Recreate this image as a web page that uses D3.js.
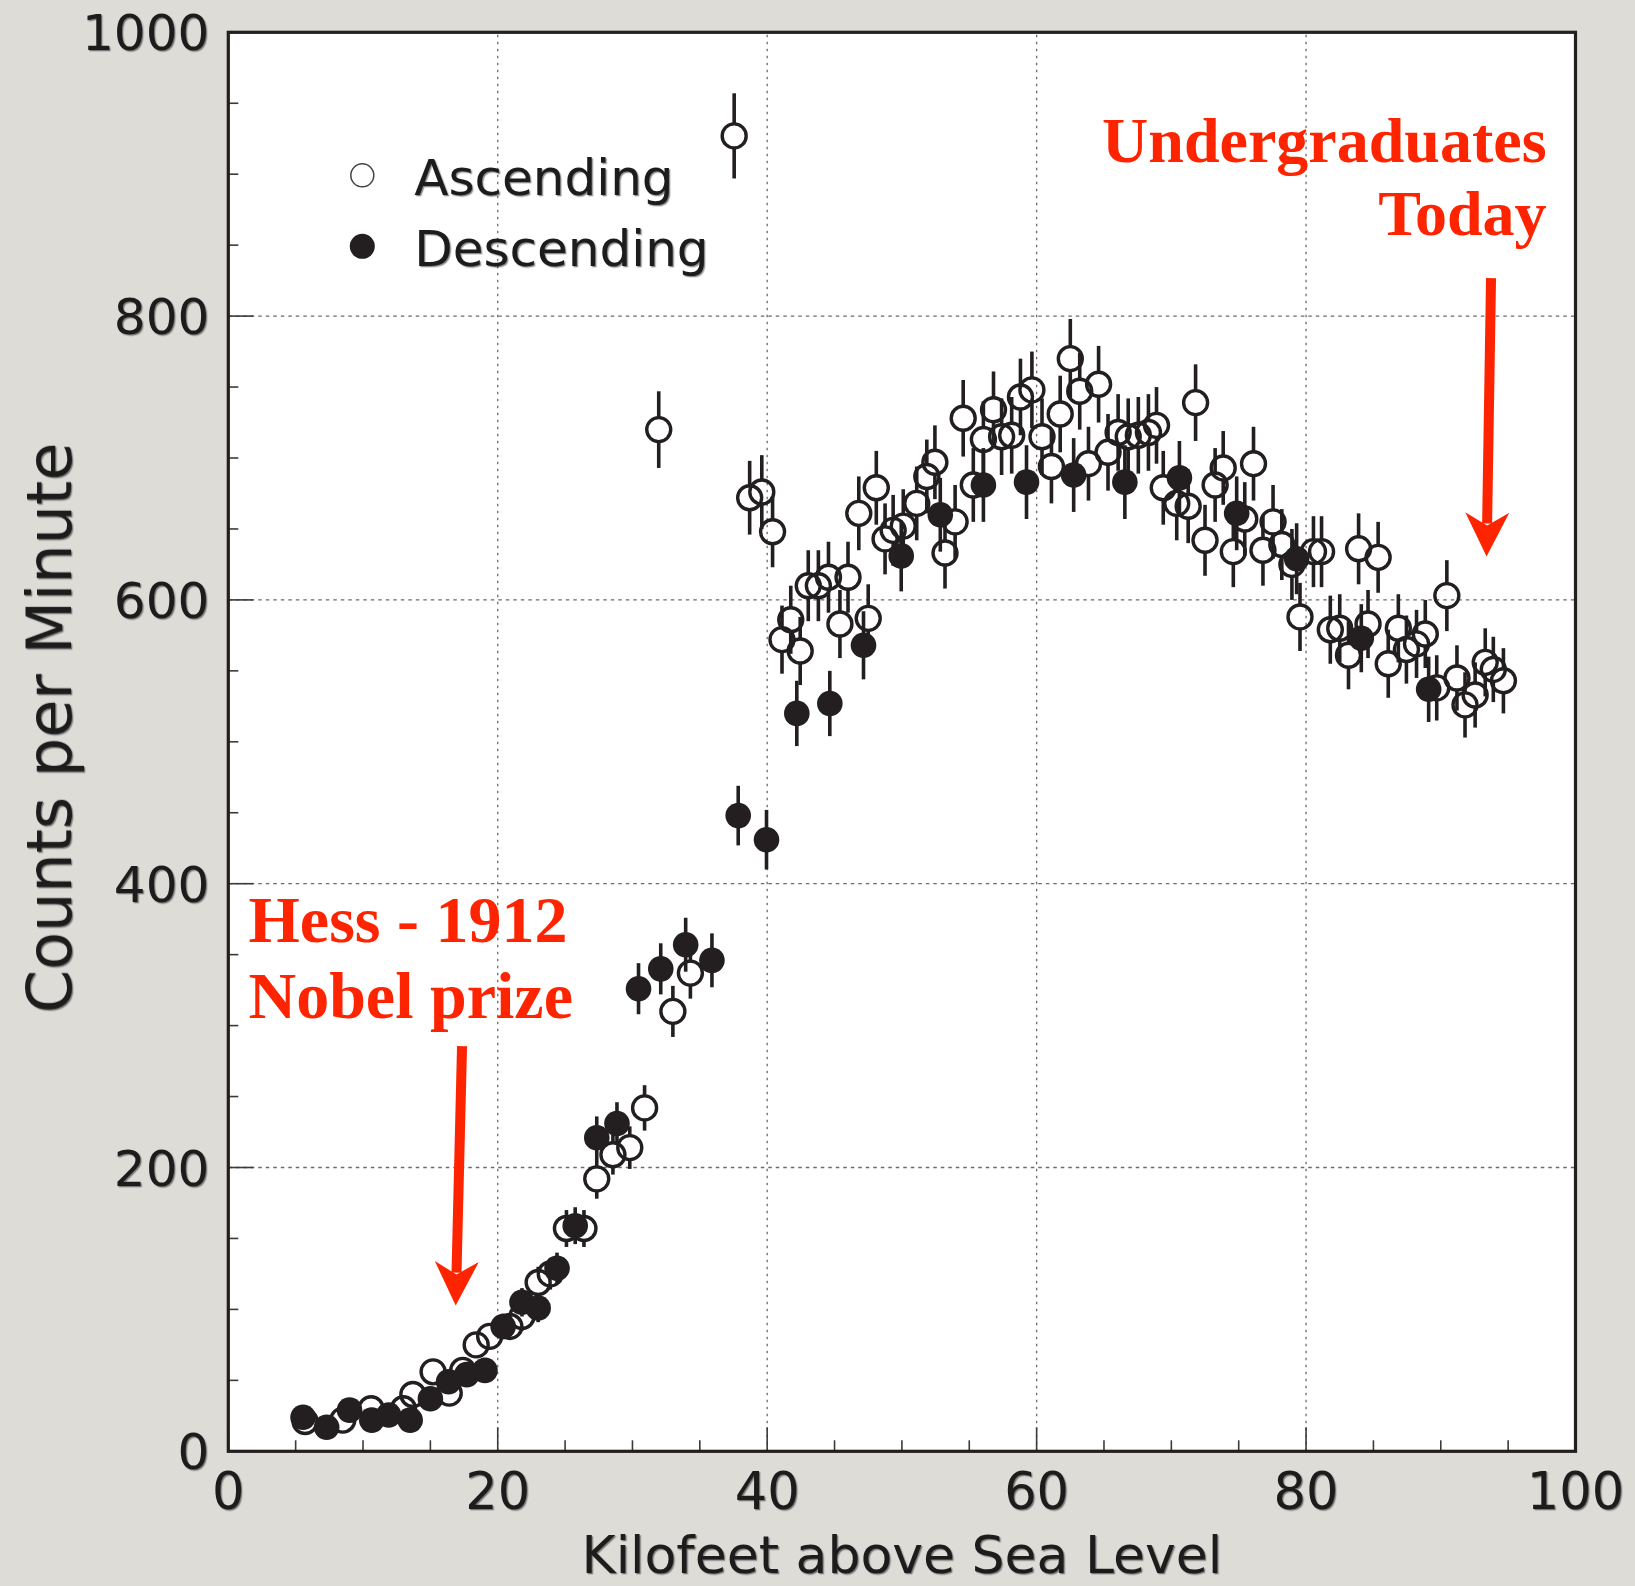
<!DOCTYPE html>
<html>
<head>
<meta charset="utf-8">
<script src="https://cdn.jsdelivr.net/npm/d3@7/dist/d3.min.js"></script>
<style>
  html, body { margin: 0; padding: 0; background: #dddcd7; }
  svg { display: block; }
</style>
</head>
<body>
<script>
// [kilofeet, counts per minute, error]
const ascending = [
  [5.7,21,5],[8.5,22,5],[10.6,30,5],[13.0,30,5],[13.7,40,6],[15.2,56,7],[16.4,41,6],
  [17.4,57,8],[18.4,75,9],[19.4,81,9],[20.9,88,9],[21.8,95,10],[23.0,119,11],[23.9,125,11],
  [25.1,157,13],[26.4,157,13],[27.35,192,14],[28.55,209,14],[29.8,214,15],[30.9,242,16],
  [33.0,310,18],[34.3,337,18],[31.95,720,27],[37.55,927,30],[38.7,672,26],[39.6,676,26],
  [40.4,648,25],[41.1,572,24],[41.75,586,24],[42.45,564,24],[43.05,610,25],[43.8,610,25],
  [44.55,616,25],[46.0,616,25],[45.4,583,24],[47.5,587,24],[46.8,661,26],[48.1,679,26],
  [48.75,643,25],[49.35,649,25],[50.1,652,26],[51.1,668,26],[51.85,687,26],[52.45,697,26],
  [53.95,655,26],[53.2,633,25],[54.55,728,27],[55.3,681,26],[56.05,713,27],[56.8,734,27],
  [57.4,715,27],[58.15,716,27],[58.8,743,27],[59.65,748,27],[60.4,715,27],[61.1,694,26],
  [61.75,731,27],[62.5,770,28],[63.2,747,27],[64.6,752,27],[63.85,696,26],[65.3,704,27],
  [66.05,718,27],[66.8,715,27],[67.55,716,27],[68.3,718,27],[68.9,723,27],[71.8,739,27],
  [69.4,679,26],[70.4,668,26],[71.25,666,26],[72.5,642,25],[73.25,681,26],[73.85,693,26],
  [76.1,696,26],[75.45,657,26],[74.6,634,25],[77.55,655,26],[76.8,635,25],[78.2,639,25],
  [78.95,625,25],[80.55,634,25],[81.15,634,25],[79.55,588,24],[83.9,636,25],[85.35,630,25],
  [90.45,603,25],[81.8,579,24],[82.5,580,24],[83.15,561,24],[84.6,583,24],[86.1,555,24],
  [86.85,580,24],[87.45,565,24],[88.2,569,24],[88.85,576,24],[89.7,538,23],[91.2,545,23],
  [91.8,526,23],[92.55,533,23],[93.3,556,24],[93.9,551,23],[94.65,543,23]
]
const descending = [
  [5.55,24,5],[7.3,17,4],[9.0,29,5],[10.65,22,5],[11.9,25.6,5],[13.5,22,5],[15.0,37,6],
  [16.35,49,7],[17.7,54,7],[19.05,57,8],[20.4,88,9],[21.8,105,10],[23.0,101,10],[24.4,129,11],
  [25.75,159,13],[27.35,221,15],[28.85,231,15],[30.45,326,18],[32.1,340,18],[33.95,357,19],
  [35.9,346,19],[37.85,448,21],[39.95,431,21],[42.2,520,23],[44.65,527,23],[47.15,568,24],
  [49.95,631,25],[52.85,660,26],[56.05,681,26],[59.25,683,26],[62.75,688,26],[66.55,683,26],
  [70.6,686,26],[74.85,661,26],[79.3,629,25],[84.1,573,24],[89.1,537,23]
]
const xTickLabels = [0, 20, 40, 60, 80, 100]
const yTickLabels = [0, 200, 400, 600, 800, 1000]
const legendLabels = ['Ascending', 'Descending']
const todayText = ['Undergraduates', 'Today']
const todayTextPos = [[97.85, 908.6], [97.85, 857]]
const hessText = ['Hess - 1912', 'Nobel prize']
const hessTextPos = [[1.5, 359], [1.5, 305.5]]
const todayArrow = [[93.73, 826.8], [93.4, 630.6]]
const hessArrow = [[17.35, 285.6], [16.88, 102.7]]

const W = 1635, H = 1586
const margin = {top: 32.3, right: 59.5, bottom: 134.7, left: 228.3}
const ink = '#231f20', red = '#ff2400'

const svg = d3.select('body').append('svg')
    .attr('width', W)
    .attr('height', H)

const defs = svg.append('defs')
defs.append('filter').attr('id', 'shadow')
    .attr('x', '-10%').attr('y', '-10%').attr('width', '120%').attr('height', '130%')
  .append('feDropShadow')
    .attr('dx', 1.3).attr('dy', 1.3).attr('stdDeviation', 0.7)
    .attr('flood-color', '#000').attr('flood-opacity', 0.45)

svg.append('rect').attr('width', W).attr('height', H).attr('fill', '#dddcd7')

const x = d3.scaleLinear().domain([0, 100]).range([margin.left, W - margin.right])
const y = d3.scaleLinear().domain([0, 1000]).range([H - margin.bottom, margin.top])

// plot area
svg.append('rect')
    .attr('x', x(0)).attr('y', y(1000))
    .attr('width', x(100) - x(0)).attr('height', y(0) - y(1000))
    .attr('fill', '#fff')

// grid
const grid = svg.append('g').attr('stroke', '#6a6a6a').attr('stroke-width', 1.3)
grid.selectAll('.gx').data(xTickLabels.slice(1, -1)).enter().append('line')
    .attr('x1', d => x(d)).attr('x2', d => x(d))
    .attr('y1', y(0)).attr('y2', y(1000))
    .attr('stroke-dasharray', '2.5,4.5')
grid.selectAll('.gy').data(yTickLabels.slice(1, -1)).enter().append('line')
    .attr('y1', d => y(d)).attr('y2', d => y(d))
    .attr('x1', x(0)).attr('x2', x(100))
    .attr('stroke-dasharray', '3.5,4')

// ticks
const ticks = svg.append('g').attr('stroke', '#3a3a3a').attr('stroke-width', 1.6)
ticks.selectAll('.tx').data(x.ticks(20)).enter().append('line')
    .attr('x1', d => x(d)).attr('x2', d => x(d))
    .attr('y1', y(0)).attr('y2', d => y(0) - (d % 20 === 0 ? 24 : 11))
ticks.selectAll('.ty').data(y.ticks(20)).enter().append('line')
    .attr('y1', d => y(d)).attr('y2', d => y(d))
    .attr('x1', x(0)).attr('x2', d => x(0) + (d % 200 === 0 ? 25 : 10))

// tick labels
const labels = svg.append('g')
    .attr('font-family', "'DejaVu Sans', sans-serif")
    .attr('fill', '#1c1c1c')
    .attr('filter', 'url(#shadow)')
labels.selectAll('.lx').data(xTickLabels).enter().append('text')
    .attr('x', d => x(d)).attr('y', y(0) + 58)
    .attr('text-anchor', 'middle')
    .attr('font-size', 51)
    .text(d => d)
labels.selectAll('.ly').data(yTickLabels).enter().append('text')
    .attr('x', x(0) - 19).attr('y', d => y(d))
    .attr('dy', '0.36em')
    .attr('text-anchor', 'end')
    .attr('font-size', 50)
    .text(d => d)

labels.append('text')
    .attr('x', (x(0) + x(100)) / 2).attr('y', H - 13)
    .attr('text-anchor', 'middle')
    .attr('font-size', 52)
    .text('Kilofeet above Sea Level')
labels.append('text')
    .attr('transform', `translate(71,${(y(0) + y(1000)) / 2 - 14}) rotate(-90)`)
    .attr('text-anchor', 'middle')
    .attr('font-size', 62)
    .text('Counts per Minute')

// error bars (drawn outside the marker)
const r = 12
const drawBars = (data) => {
  const g = svg.append('g').attr('stroke', ink).attr('stroke-width', 3.6)
  data.forEach(d => {
    const cx = x(d[0]), top = y(d[1] + d[2]), bot = y(d[1] - d[2]), cy = y(d[1])
    if (cy - top > r) g.append('line').attr('x1', cx).attr('x2', cx).attr('y1', top).attr('y2', cy - r)
    if (bot - cy > r) g.append('line').attr('x1', cx).attr('x2', cx).attr('y1', cy + r).attr('y2', bot)
  })
}
drawBars(ascending)
drawBars(descending)

svg.append('g').selectAll('circle').data(ascending).enter().append('circle')
    .attr('cx', d => x(d[0])).attr('cy', d => y(d[1]))
    .attr('r', r)
    .attr('fill', 'none')
    .attr('stroke', ink)
    .attr('stroke-width', 3.4)

svg.append('g').selectAll('circle').data(descending).enter().append('circle')
    .attr('cx', d => x(d[0])).attr('cy', d => y(d[1]))
    .attr('r', r + 0.8)
    .attr('fill', ink)

// legend
const legend = svg.append('g')
const legendRows = legend.selectAll('g').data(legendLabels).enter().append('g')
    .attr('transform', (d, i) => `translate(${x(0) + 134},${y(1000) + 143 + i * 71})`)
legendRows.append('circle')
    .attr('r', (d, i) => i === 0 ? 11.5 : 12.5)
    .attr('fill', (d, i) => i === 0 ? '#fff' : ink)
    .attr('stroke', (d, i) => i === 0 ? '#444' : 'none')
    .attr('stroke-width', 1.5)
legendRows.append('text')
    .attr('x', 52).attr('y', 20)
    .attr('font-family', "'DejaVu Sans', sans-serif")
    .attr('font-size', 50)
    .attr('fill', '#1c1c1c')
    .attr('filter', 'url(#shadow)')
    .text(d => d)

// annotations
const notes = svg.append('g')
    .attr('font-family', "'Liberation Serif', 'Times New Roman', serif")
    .attr('font-weight', 'bold')
    .attr('fill', red)
notes.selectAll('.today').data(todayText).enter().append('text')
    .attr('x', (d, i) => x(todayTextPos[i][0])).attr('y', (d, i) => y(todayTextPos[i][1]))
    .attr('text-anchor', 'end')
    .attr('font-size', 64)
    .text(d => d)
notes.selectAll('.hess').data(hessText).enter().append('text')
    .attr('x', (d, i) => x(hessTextPos[i][0])).attr('y', (d, i) => y(hessTextPos[i][1]))
    .attr('font-size', 66)
    .text(d => d)

const drawArrow = (pts) => {
  const [sx, sy] = [x(pts[0][0]), y(pts[0][1])]
  const [tx, ty] = [x(pts[1][0]), y(pts[1][1])]
  const len = Math.hypot(tx - sx, ty - sy)
  const ux = (tx - sx) / len, uy = (ty - sy) / len
  const nx = -uy, ny = ux
  const headLen = 44, half = 22, notch = 31
  const bx = tx - ux * headLen, by = ty - uy * headLen
  const mx = tx - ux * notch, my = ty - uy * notch
  svg.append('line')
      .attr('x1', sx).attr('y1', sy).attr('x2', mx - ux * 2).attr('y2', my - uy * 2)
      .attr('stroke', red).attr('stroke-width', 10)
  svg.append('path')
      .attr('d', `M${tx},${ty}L${bx + nx * half},${by + ny * half}L${mx},${my}L${bx - nx * half},${by - ny * half}Z`)
      .attr('fill', red)
}
drawArrow(hessArrow)
drawArrow(todayArrow)

// frame
svg.append('rect')
    .attr('x', x(0)).attr('y', y(1000))
    .attr('width', x(100) - x(0)).attr('height', y(0) - y(1000))
    .attr('fill', 'none')
    .attr('stroke', ink)
    .attr('stroke-width', 3.2)
</script>
</body>
</html>
